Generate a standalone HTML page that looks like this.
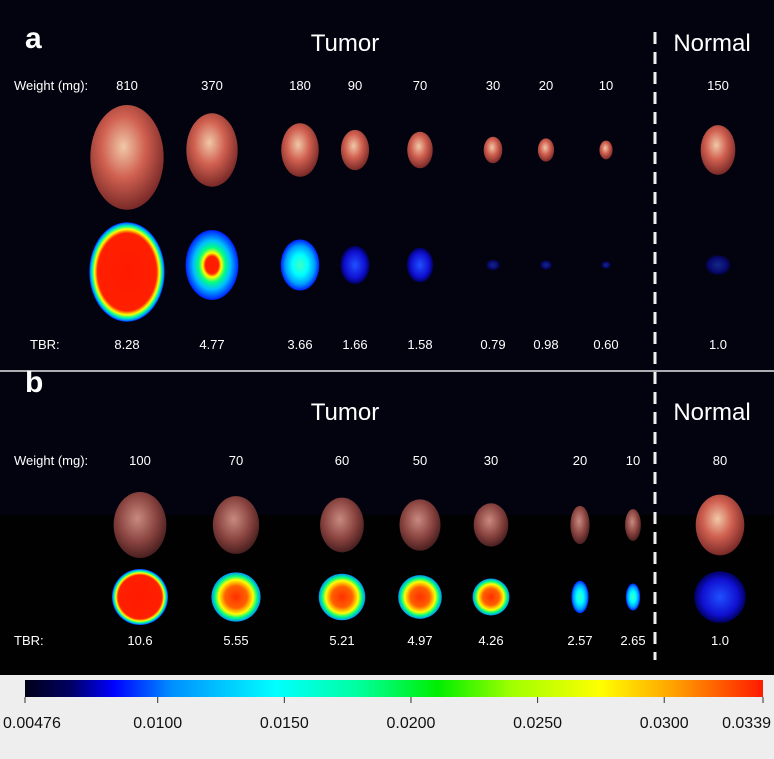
<!DOCTYPE html>
<html><head><meta charset="utf-8">
<style>
body{margin:0;background:#eeeeee;}
svg{display:block;font-family:"Liberation Sans",Arial,sans-serif;}
</style></head>
<body>
<svg id="fig" width="774" height="759" viewBox="0 0 774 759">
<defs>
<linearGradient id="jet" x1="0" x2="1" y1="0" y2="0">
<stop offset="0" stop-color="#000018"/>
<stop offset="0.06" stop-color="#000060"/>
<stop offset="0.12" stop-color="#0000ff"/>
<stop offset="0.2" stop-color="#0090ff"/>
<stop offset="0.34" stop-color="#00ffff"/>
<stop offset="0.45" stop-color="#00ffa0"/>
<stop offset="0.56" stop-color="#00ee00"/>
<stop offset="0.66" stop-color="#a0ff00"/>
<stop offset="0.78" stop-color="#ffff00"/>
<stop offset="0.88" stop-color="#ffa000"/>
<stop offset="1" stop-color="#ff1a00"/>
</linearGradient>
<radialGradient id="tissue" cx="0.45" cy="0.4" r="0.6">
<stop offset="0" stop-color="#f0c8a8"/><stop offset="0.5" stop-color="#d06050"/><stop offset="1" stop-color="#7a2a28"/>
</radialGradient>
<radialGradient id="tissueb" cx="0.45" cy="0.4" r="0.6">
<stop offset="0" stop-color="#c88a80"/><stop offset="0.6" stop-color="#8a4440"/><stop offset="1" stop-color="#4a2020"/>
</radialGradient>
<radialGradient id="hot" cx="0.5" cy="0.5" r="0.5">
<stop offset="0" stop-color="#ff1a00"/><stop offset="0.78" stop-color="#ff2000"/><stop offset="0.86" stop-color="#ffff00"/><stop offset="0.92" stop-color="#00ffa0"/><stop offset="0.97" stop-color="#0090ff"/><stop offset="1" stop-color="#0020ff"/>
</radialGradient>
<radialGradient id="mid" cx="0.5" cy="0.5" r="0.5">
<stop offset="0" stop-color="#ff1a00"/><stop offset="0.25" stop-color="#ff2000"/><stop offset="0.35" stop-color="#ffff00"/><stop offset="0.5" stop-color="#00ff80"/><stop offset="0.7" stop-color="#00c0ff"/><stop offset="1" stop-color="#0020ff"/>
</radialGradient>
<radialGradient id="warm" cx="0.5" cy="0.5" r="0.5">
<stop offset="0" stop-color="#ff3000"/><stop offset="0.45" stop-color="#ff6000"/><stop offset="0.7" stop-color="#ffff00"/><stop offset="0.85" stop-color="#00ff80"/><stop offset="1" stop-color="#0090ff"/>
</radialGradient>
<radialGradient id="cool" cx="0.5" cy="0.5" r="0.5">
<stop offset="0" stop-color="#40ffc0"/><stop offset="0.4" stop-color="#00ffff"/><stop offset="0.75" stop-color="#00a0ff"/><stop offset="1" stop-color="#0020ff"/>
</radialGradient>
<radialGradient id="blue" cx="0.5" cy="0.5" r="0.5">
<stop offset="0" stop-color="#2050ff"/><stop offset="0.7" stop-color="#1010d0"/><stop offset="1" stop-color="#000060"/>
</radialGradient>
</defs>
<rect x="0" y="0" width="774" height="675" fill="#03030f"/>
<rect x="0" y="515" width="774" height="160" fill="#010101"/>
<rect x="0" y="675" width="774" height="84" fill="#eeeeee"/>
<line x1="0" y1="371" x2="774" y2="371" stroke="#e8e8e8" stroke-width="1.5"/>
<line x1="655" y1="32" x2="655" y2="660" stroke="#f0f0f0" stroke-width="3" stroke-dasharray="12,8"/>
<text x="25" y="48" font-size="30" font-weight="bold" fill="#fff">a</text>
<text x="25" y="392" font-size="30" font-weight="bold" fill="#fff">b</text>
<text x="345" y="51" font-size="24" fill="#fff" text-anchor="middle">Tumor</text>
<text x="712" y="51" font-size="24" fill="#fff" text-anchor="middle">Normal</text>
<text x="345" y="420" font-size="24" fill="#fff" text-anchor="middle">Tumor</text>
<text x="712" y="420" font-size="24" fill="#fff" text-anchor="middle">Normal</text>
<text x="14" y="90" font-size="13" fill="#fff">Weight (mg):</text>
<text x="14" y="465" font-size="13" fill="#fff">Weight (mg):</text>
<text x="30" y="349" font-size="13" fill="#fff">TBR:</text>
<text x="14" y="645" font-size="13" fill="#fff">TBR:</text>
<g id="samples"></g>
<rect x="25" y="680" width="738" height="17" fill="url(#jet)"/>
<g id="cbticks"></g>
</svg>
<script>
const weightsA = [810, 370, 180, 90, 70, 30, 20, 10, 150];
const tbrA = ["8.28", "4.77", "3.66", "1.66", "1.58", "0.79", "0.98", "0.60", "1.0"];
const weightsB = [100, 70, 60, 50, 30, 20, 10, 80];
const tbrB = ["10.6", "5.55", "5.21", "4.97", "4.26", "2.57", "2.65", "1.0"];
const cbTicks = ["0.00476", "0.0100", "0.0150", "0.0200", "0.0250", "0.0300", "0.0339"];
const cbValues = [0.00476, 0.0100, 0.0150, 0.0200, 0.0250, 0.0300, 0.0339];

const NS = "http://www.w3.org/2000/svg";
function mk(tag, attrs, parent){const e=document.createElementNS(NS,tag);for(const k in attrs)e.setAttribute(k,attrs[k]);parent.appendChild(e);return e;}
const g = document.getElementById('samples');
const xA = [127, 212, 300, 355, 420, 493, 546, 606, 718];
const xB = [140, 236, 342, 420, 491, 580, 633, 720];
function fillA(t){t=parseFloat(t);return t>=8?'url(#hot)':t>=4?'url(#mid)':t>=3?'url(#cool)':'url(#blue)';}
function fillB(t){t=parseFloat(t);return t>=10?'url(#hot)':t>=4?'url(#warm)':t>=2?'url(#cool)':'url(#blue)';}
weightsA.forEach((w,i)=>{
  const x=xA[i], r=4+Math.sqrt(w)*1.7;
  const tv=parseFloat(tbrA[i]);
  const t1=mk('text',{x:x,y:90,'font-size':13,fill:'#fff','text-anchor':'middle'},g);t1.textContent=w;
  
  
  const p=mk('ellipse',{cx:x,cy:Math.max(150,105+r),rx:r*0.7,ry:r,fill:'url(#tissue)'},g);
  
  
  const small=tv<1.2;
  const f=mk('ellipse',{cx:x,cy:tv>=8?272:265,rx:r*(small?0.5:0.72),ry:r*(small?0.4:0.95),fill:fillA(tbrA[i]),opacity:small?0.5:1},g);
  
  
  const t2=mk('text',{x:x,y:349,'font-size':13,fill:'#fff','text-anchor':'middle'},g);t2.textContent=tbrA[i];
  
  
});
weightsB.forEach((w,i)=>{
  const x=xB[i], r=8+Math.sqrt(w)*2.5;
  const tv=parseFloat(tbrB[i]);
  const t1=mk('text',{x:x,y:465,'font-size':13,fill:'#fff','text-anchor':'middle'},g);t1.textContent=w;
  
  
  const narrow=(tv>2&&tv<3);
  const p=mk('ellipse',{cx:x,cy:525,rx:r*(narrow?0.5:0.8),ry:r,fill:i==7?'url(#tissue)':'url(#tissueb)'},g);
  
  
  const f=mk('ellipse',{cx:x,cy:597,rx:r*(narrow?0.45:0.85),ry:r*0.85,fill:fillB(tbrB[i])},g);
  
  
  const t2=mk('text',{x:x,y:645,'font-size':13,fill:'#fff','text-anchor':'middle'},g);t2.textContent=tbrB[i];
  
  
});
const cg=document.getElementById('cbticks');
const cbX=v=>25+(v-cbValues[0])/(cbValues[cbValues.length-1]-cbValues[0])*738;
cbValues.forEach((v,i)=>{
  const x=cbX(v);
  const l=mk('line',{x1:x,y1:697,x2:x,y2:703,stroke:'#333','stroke-width':1},cg);
  
  
  const anchor=i==0?'start':i==cbValues.length-1?'end':'middle';
  const t=mk('text',{x:i==0?3:i==cbValues.length-1?771:x,y:728,'font-size':16,fill:'#111','text-anchor':anchor},cg);t.textContent=cbTicks[i];
  
  
});
</script>
</body></html>
